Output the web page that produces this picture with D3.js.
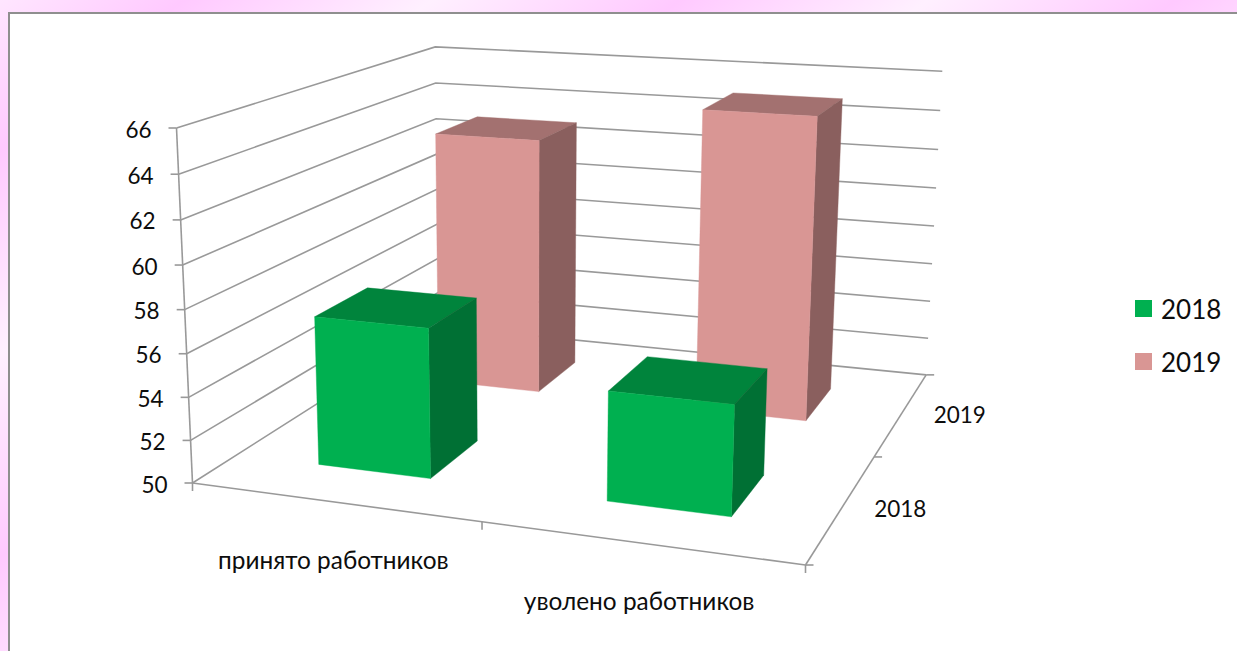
<!DOCTYPE html>
<html><head><meta charset="utf-8">
<script src="https://cdn.jsdelivr.net/npm/d3@7"></script>
<style>html,body{margin:0;padding:0;background:#fff;overflow:hidden}svg{display:block}text{font-family:Lato,"Noto Sans",sans-serif;fill:#0d0d0d}</style>
</head><body><svg id="c" width="1237" height="651"></svg>
<script>
const categories = ["принято работников", "уволено работников"];
const seriesNames = ["2018", "2019"];
const values2018 = [57, 55];
const values2019 = [63, 65];
const valueTicks = [50,52,54,56,58,60,62,64,66];

const colors = {
  "2018": {front:"#00b050", top:"#00843c", side:"#007034"},
  "2019": {front:"#d99694", top:"#a37170", side:"#8a5f5e"}
};
const seriesValues = {"2018": values2018, "2019": values2019};

// library scales to normalised chart-box coordinates
const xS = d3.scaleBand().domain(categories).range([0,1]).paddingInner(.6).paddingOuter(.3);
const zS = d3.scaleBand().domain(seriesNames).range([0,1]).paddingInner(.6).paddingOuter(.3);
const yS = d3.scaleLinear().domain([50,66]).range([0,1]);

// perspective projection of the box
const O=[192.5,483], U=[805.5,565], V=[176.5,128], W=[438.5,326.5];
const p=-.105, q=-.0457, r=.283;
const A=[U[0]*(1+p)-O[0],U[1]*(1+p)-O[1]];
const B=[V[0]*(1+q)-O[0],V[1]*(1+q)-O[1]];
const C=[W[0]*(1+r)-O[0],W[1]*(1+r)-O[1]];
function P(u,v,w){
  const d=1+p*u+q*v+r*w;
  return [(O[0]+u*A[0]+v*B[0]+w*C[0])/d,(O[1]+u*A[1]+v*B[1]+w*C[1])/d];
}

const svg=d3.select("#c");
const defs=svg.append("defs");
const g=defs.append("linearGradient").attr("id","bg").attr("gradientUnits","userSpaceOnUse")
  .attr("spreadMethod","repeat")
  .attr("x1",0).attr("y1",0).attr("x2",199.6).attr("y2",243.2);
[[0,"#ffe6ff"],[.37,"#ffc9ff"],[.87,"#fff0ff"],[1,"#ffe6ff"]]
  .forEach(s=>g.append("stop").attr("offset",s[0]).attr("stop-color",s[1]));
svg.append("rect").attr("width",1237).attr("height",651).attr("fill","url(#bg)");
svg.append("rect").attr("x",9).attr("y",13).attr("width",1300).attr("height",700)
  .attr("fill","#fff").attr("stroke","#8f8f8f").attr("stroke-width",2);

const axisColor="#999999";
const lines=svg.append("g").attr("fill","none").attr("stroke",axisColor).attr("stroke-width",1.6);
const seg=(a,b)=>lines.append("path").attr("d",d3.line()([a,b]));

// walls
valueTicks.forEach(t=>{
  const v=yS(t);
  lines.append("path").attr("d",d3.line()([P(0,v,0),P(0,v,1),P(1,v,1)]));
  const a=P(0,v,0);
  seg([a[0]-8,a[1]],a);
});
seg(P(0,0,0),P(0,1,0));
// floor edges
seg(P(0,0,0),P(1,0,0));
seg(P(1,0,0),P(1,0,1));
[0,.5,1].forEach(u=>{const a=P(u,0,0);seg(a,[a[0],a[1]+8]);});
[0,.5,1].forEach(w=>{const a=P(1,0,w);seg(a,[a[0]+8,a[1]]);});

// bars, far series first
const barG=svg.append("g");
seriesNames.slice().reverse().forEach(s=>{
  categories.forEach((c,i)=>{
    const u0=xS(c),u1=u0+xS.bandwidth(),w0=zS(s),w1=w0+zS.bandwidth(),v=yS(seriesValues[s][i]);
    const face=(pts,col)=>barG.append("path").attr("d",d3.line()(pts)+"Z").attr("fill",col).attr("stroke",col).attr("stroke-width",.4);
    face([P(u0,v,w0),P(u1,v,w0),P(u1,v,w1),P(u0,v,w1)],colors[s].top);
    face([P(u1,0,w0),P(u1,v,w0),P(u1,v,w1),P(u1,0,w1)],colors[s].side);
    face([P(u0,0,w0),P(u1,0,w0),P(u1,v,w0),P(u0,v,w0)],colors[s].front);
  });
});

// labels
const lab=svg.append("g").attr("font-size",22.5);
valueTicks.forEach(t=>{
  const a=P(0,yS(t),0);
  lab.append("text").attr("x",a[0]-25).attr("y",a[1]+1).attr("text-anchor","end").attr("dominant-baseline","central").text(t);
});
categories.forEach(c=>{
  const a=P(xS(c)+xS.bandwidth()/2,0,0);
  lab.append("text").attr("x",a[0]).attr("y",a[1]+58).attr("font-size",24.4).attr("text-anchor","middle").attr("dominant-baseline","central").text(c);
});
seriesNames.forEach(s=>{
  const a=P(1,0,zS(s)+zS.bandwidth()/2);
  lab.append("text").attr("x",a[0]+58).attr("y",a[1]+1.5).attr("text-anchor","middle").attr("dominant-baseline","central").text(s);
});

// legend
const legY=d3.scalePoint().domain(seriesNames).range([308.5,361.5]);
const leg=svg.append("g").attr("font-size",26);
seriesNames.forEach(s=>{
  leg.append("rect").attr("x",1135).attr("y",legY(s)-8.5).attr("width",17).attr("height",17).attr("fill",colors[s].front);
  leg.append("text").attr("x",1161).attr("y",legY(s)).attr("dominant-baseline","central").text(s);
});
</script></body></html>
